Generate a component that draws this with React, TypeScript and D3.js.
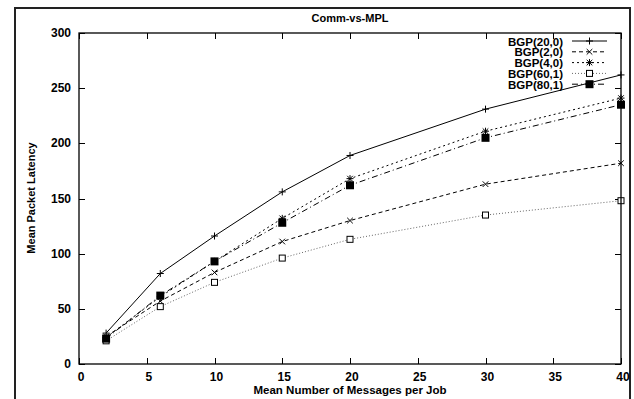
import React, { useEffect, useRef } from "react";
import * as d3 from "d3";

const xValues = [2, 6, 10, 15, 20, 30, 40];
const seriesNames = ["BGP(20,0)", "BGP(2,0)", "BGP(4,0)", "BGP(60,1)", "BGP(80,1)"];
const bgp20_0 = [28, 82, 116, 156, 189, 231, 262];
const bgp2_0 = [25, 57, 83, 111, 130, 163, 182];
const bgp4_0 = [24, 61, 93, 132, 168, 211, 241];
const bgp60_1 = [21, 52, 74, 96, 113, 135, 148];
const bgp80_1 = [23, 62, 93, 128, 162, 205, 235];
const xTicks = [0, 5, 10, 15, 20, 25, 30, 35, 40];
const yTicks = [0, 50, 100, 150, 200, 250, 300];
const title = "Comm-vs-MPL";
const xLabel = "Mean Number of Messages per Job";
const yLabel = "Mean Packet Latency";

const seriesValues = [bgp20_0, bgp2_0, bgp4_0, bgp60_1, bgp80_1];
const styles = [
  { dash: "", marker: "plus", color: "#000" },
  { dash: "4,3", marker: "cross", color: "#000" },
  { dash: "2,3", marker: "star", color: "#000" },
  { dash: "1,2", marker: "square", color: "#666" },
  { dash: "6,3,1,3", marker: "fsquare", color: "#000" },
];

function drawMarker(g: any, type: string, x: number, y: number) {
  const s = 3.5;
  if (type === "plus" || type === "star") {
    g.append("line").attr("x1", x - s).attr("x2", x + s).attr("y1", y).attr("y2", y).attr("stroke", "#000");
    g.append("line").attr("x1", x).attr("x2", x).attr("y1", y - s).attr("y2", y + s).attr("stroke", "#000");
  }
  if (type === "cross" || type === "star") {
    const c = 2.8;
    g.append("line").attr("x1", x - c).attr("x2", x + c).attr("y1", y - c).attr("y2", y + c).attr("stroke", "#000");
    g.append("line").attr("x1", x - c).attr("x2", x + c).attr("y1", y + c).attr("y2", y - c).attr("stroke", "#000");
  }
  if (type === "square") {
    g.append("rect").attr("x", x - 3).attr("y", y - 3).attr("width", 6).attr("height", 6)
      .attr("fill", "#fff").attr("stroke", "#000").attr("stroke-width", 1);
  }
  if (type === "fsquare") {
    g.append("rect").attr("x", x - 4).attr("y", y - 4).attr("width", 8).attr("height", 8).attr("fill", "#000");
  }
}

export default function App() {
  const ref = useRef<SVGGElement>(null);
  useEffect(() => {
    const svg = d3.select(ref.current);
    svg.selectAll("*").remove();
    const left = 79, right = 621, top = 33, bottom = 364;
    const x = d3.scaleLinear().domain([0, 40]).range([left, right]);
    const y = d3.scaleLinear().domain([0, 300]).range([bottom, top]);
    const font = "'Liberation Sans', Arial, Helvetica, sans-serif";

    // outer frame as filled strips
    const fr = svg.append("g").attr("fill", "#222");
    fr.append("rect").attr("x", 14).attr("y", 7).attr("width", 2).attr("height", 392);
    fr.append("rect").attr("x", 629).attr("y", 7).attr("width", 2).attr("height", 392);
    fr.append("rect").attr("x", 14).attr("y", 7).attr("width", 617).attr("height", 2);

    // ticks (mirrored, inward)
    const tl = 6;
    const tg = svg.append("g").attr("stroke", "#000").attr("stroke-width", 1);
    xTicks.forEach((t) => {
      const px = Math.round(x(t)) + 0.5;
      tg.append("line").attr("x1", px).attr("x2", px).attr("y1", bottom).attr("y2", bottom - tl);
      tg.append("line").attr("x1", px).attr("x2", px).attr("y1", top).attr("y2", top + tl);
    });
    yTicks.forEach((t) => {
      const py = Math.round(y(t)) + 0.5;
      tg.append("line").attr("x1", left).attr("x2", left + tl).attr("y1", py).attr("y2", py);
      tg.append("line").attr("x1", right).attr("x2", right - tl).attr("y1", py).attr("y2", py);
    });

    svg.append("g").selectAll("text").data(xTicks).join("text")
      .attr("x", (d) => x(d) + 2).attr("y", 381).attr("text-anchor", "middle")
      .attr("font-family", font).attr("font-weight", "bold").attr("font-size", 12).text((d) => String(d));
    svg.append("g").selectAll("text").data(yTicks).join("text")
      .attr("x", 71).attr("y", (d) => y(d) + 4).attr("text-anchor", "end")
      .attr("font-family", font).attr("font-weight", "bold").attr("font-size", 12).text((d) => String(d));

    svg.append("text").attr("x", 350).attr("y", 22).attr("text-anchor", "middle")
      .attr("font-family", font).attr("font-weight", "bold").attr("font-size", 11).text(title);
    svg.append("text").attr("x", 350).attr("y", 394).attr("text-anchor", "middle")
      .attr("font-family", font).attr("font-weight", "bold").attr("font-size", 11.5).text(xLabel);
    svg.append("text").attr("transform", `translate(35,198) rotate(-90)`).attr("text-anchor", "middle")
      .attr("font-family", font).attr("font-weight", "bold").attr("font-size", 11).text(yLabel);

    const line = d3.line<number>().x((_, i) => x(xValues[i])).y((d) => y(d));
    seriesValues.forEach((vals, si) => {
      const st = styles[si];
      svg.append("path").attr("d", line(vals)).attr("fill", "none").attr("stroke", st.color)
        .attr("stroke-width", 1).attr("stroke-dasharray", st.dash);
      const mg = svg.append("g");
      vals.forEach((v, i) => drawMarker(mg, st.marker, x(xValues[i]), y(v)));
    });

    // legend
    seriesNames.forEach((name, i) => {
      const ly = 41 + i * 10.8;
      const st = styles[i];
      svg.append("text").attr("x", 563).attr("y", ly + 4.5).attr("text-anchor", "end")
        .attr("font-family", font).attr("font-weight", "bold").attr("font-size", 11.5).text(name);
      svg.append("line").attr("x1", 572).attr("x2", 607).attr("y1", ly).attr("y2", ly)
        .attr("stroke", st.color).attr("stroke-width", 1).attr("stroke-dasharray", st.dash);
      drawMarker(svg.append("g"), st.marker, 589.5, ly);
    });

    // plot frame
    svg.append("rect").attr("x", left).attr("y", top).attr("width", right - left).attr("height", bottom - top)
      .attr("fill", "none").attr("stroke", "#000").attr("stroke-width", 1.3);
  }, []);
  return (
    <svg width={634} height={399} viewBox="0 0 634 399"
      style={{ position: "absolute", left: 0, top: 0, background: "#fff" }}>
      <rect x={0} y={0} width={634} height={399} fill="#fff" />
      <g ref={ref} />
    </svg>
  );
}
